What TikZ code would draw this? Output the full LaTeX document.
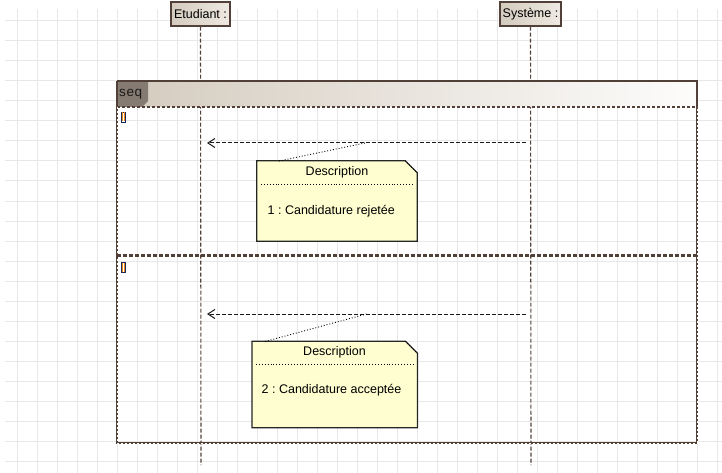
\documentclass[tikz,border=0pt]{standalone}
\usepackage{fontspec}
\setmainfont{Liberation Sans}
\usetikzlibrary{arrows.meta}
\definecolor{gridc}{HTML}{E8E8E8}
\definecolor{frameb}{HTML}{504038}
\definecolor{headl}{HTML}{D4CBBE}
\definecolor{headr}{HTML}{EEE9E2}
\definecolor{tabc}{HTML}{857B72}
\definecolor{notef}{HTML}{FEFED0}
\definecolor{guardo}{HTML}{F08A10}
\definecolor{guardb}{HTML}{1A2A60}
\tikzset{
  gridline/.style={draw=gridc, line width=1pt},
  headbox/.style={draw=frameb, line width=1.1pt, left color=headl, right color=headr, minimum height=24pt, inner sep=0pt, font=\fontsize{12.5}{14}\selectfont},
  lifeline/.style={draw=frameb, line width=1.1pt, dash pattern=on 4pt off 2pt},
  reply/.style={draw=black!90, line width=1pt, dash pattern=on 4pt off 2pt, -{Straight Barb[length=7pt,width=9pt]}},
  notebody/.style={draw=black!85, line width=1.2pt, fill=notef},
  notearea/.style={inner sep=0pt},
  notetxt/.style={inner sep=0pt, font=\fontsize{12.5}{14}\selectfont},
  anchorline/.style={draw=black, line width=0.9pt, dotted},
  framedash/.style={draw=frameb, line width=2.4pt},
  framewhite/.style={draw=white, line width=0.6pt, dash pattern=on 2pt off 2pt},
  sepline/.style={draw=frameb, line width=2.2pt, dash pattern=on 4pt off 2pt},
}
\begin{document}
\frenchspacing
\begin{tikzpicture}[x=1pt,y=-1pt]
\useasboundingbox (0,0) rectangle (722,473);
\fill[white] (0,0) rectangle (722,473);
% grid
\foreach \x in {17,37,...,717} \draw[gridline] (\x,9) -- (\x,473);
\foreach \y in {21,41,...,461} \draw[gridline] (5,\y) -- (722,\y);
% lifeline heads
\node[headbox, minimum width=59pt] (etu) at (200.5,14) {Etudiant :};
\node[headbox, minimum width=61pt] (sys) at (530.5,14) {Système :};
\coordinate (etuEnd) at (201,465);
\coordinate (sysEnd) at (531,465);
\draw[lifeline] (etu.south) -- (etuEnd);
\draw[lifeline] (sys.south) -- (sysEnd);
% frame header
\shade[left color=headl, right color=white!95!headl] (117,81) rectangle (697,107);
\fill[tabc] (117,81) -- (148,81) -- (148,101) -- (142,107) -- (117,107) -- cycle;
\node[inner sep=0pt, anchor=west, font=\fontsize{13.5}{15}\selectfont, text=black!90] (seq) at (119,94.5) {s\kern0.6pt e\kern0.6pt q};
\draw[draw=frameb, line width=1.3pt] (117,81) -- (697,81) -- (697,107);
\draw[draw=frameb, line width=1.3pt, dash pattern=on 3pt off 2pt] (117,107) -- (697,107);
% frame sides
\draw[framedash] (117,81) -- (117,443) -- (697,443) -- (697,107);
\draw[framewhite] (117,107) -- (117,443) -- (697,443) -- (697,107);
\draw[sepline] (117,255.5) -- (697,255.5);
% guards
\foreach \gy in {112,262} {
  \draw[guardb, line width=0.9pt] (121.5,\gy) rectangle (125.5,\gy+10);
  \draw[guardo, line width=1pt] (124.7,\gy+0.5) -- (124.7,\gy+9.5);
  \draw[guardo, line width=0.6pt] (122.3,\gy+0.5) -- (122.3,\gy+9.5);
}
% messages
\coordinate (m1s) at (526,143);
\coordinate (m1e) at (207,143);
\coordinate (m2s) at (526,314);
\coordinate (m2e) at (207,314);
\draw[reply] (m1s) -- (m1e);
\draw[reply] (m2s) -- (m2e);
% note 1
\node[notearea, minimum width=160pt, minimum height=80pt] (n1) at (337,201) {};
\path[notebody] (n1.north west) -- ([xshift=-12pt]n1.north east) -- ([yshift=-12pt]n1.north east) -- (n1.south east) -- (n1.south west) -- cycle;
\draw[line width=0.8pt, dotted] ([xshift=-12pt]n1.north east) -- ([yshift=-12pt]n1.north east);
\node[notetxt] (n1t) at (337,172.5) {Description};
\draw[line width=0.9pt, dotted] (261,184) -- (414,184);
\node[notetxt, anchor=west] (n1b) at (267.5,211.5) {1 : Candidature rejetée};
\coordinate (n1a) at (279,161);
\coordinate (n1m) at (365,143);
\draw[anchorline] (n1a) -- (n1m);
% note 2
\node[notearea, minimum width=165pt, minimum height=86pt] (n2) at (334.75,384.5) {};
\path[notebody] (n2.north west) -- ([xshift=-12pt]n2.north east) -- ([yshift=-12pt]n2.north east) -- (n2.south east) -- (n2.south west) -- cycle;
\draw[line width=0.8pt, dotted] ([xshift=-12pt]n2.north east) -- ([yshift=-12pt]n2.north east);
\node[notetxt] (n2t) at (334.5,352.5) {Description};
\draw[line width=0.9pt, dotted] (256,364) -- (414,364);
\node[notetxt, anchor=west] (n2b) at (261.5,390.5) {2 : Candidature acceptée};
\coordinate (n2a) at (265,341.5);
\coordinate (n2m) at (366.5,314);
\draw[anchorline] (n2a) -- (n2m);
\end{tikzpicture}
\end{document}
